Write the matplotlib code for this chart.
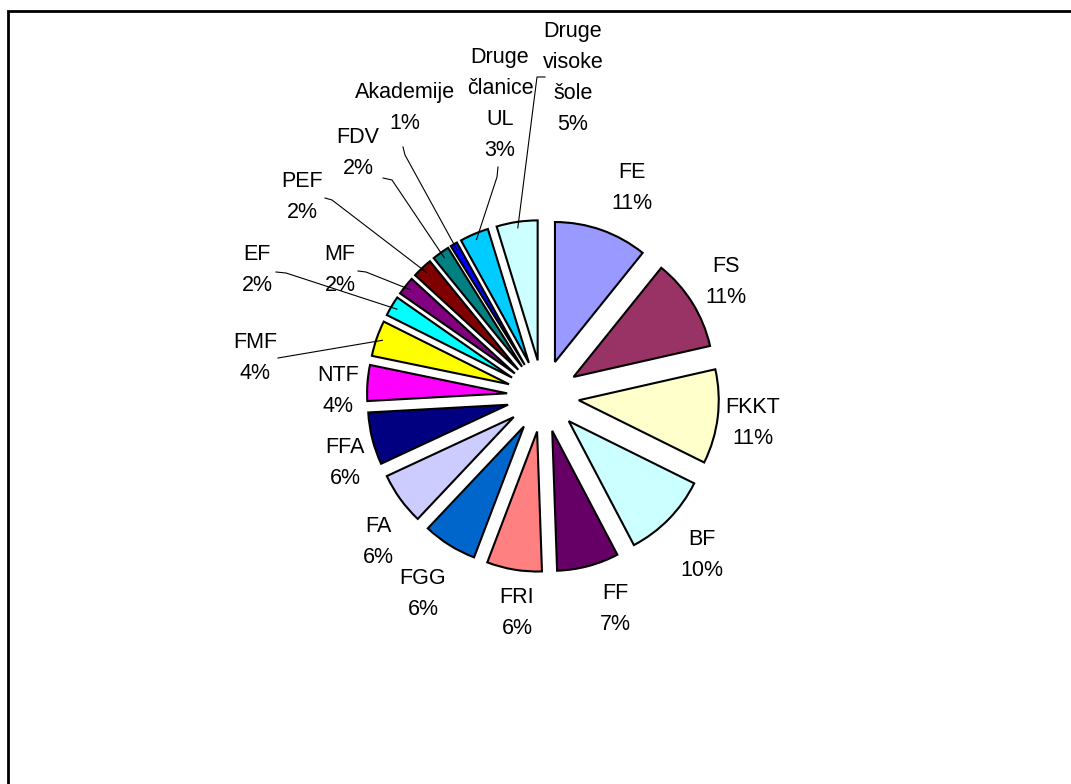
import numpy as np
import matplotlib
matplotlib.use("Agg")
import matplotlib.pyplot as plt
from matplotlib.patches import Rectangle

# data
labels = ["FE", "FS", "FKKT", "BF", "FF", "FRI", "FGG", "FA", "FFA", "NTF", "FMF",
          "EF", "MF", "PEF", "FDV", "Akademije", "Druge\nčlanice\nUL", "Druge\nvisoke\nšole"]
values = [10.7, 10.6, 10.8, 9.9, 7.1, 6.3, 6.2, 6.0, 6.0, 4.1, 4.1,
          2.3, 2.1, 2.3, 2.0, 0.8, 3.3, 4.7]
colors = ["#9999FF", "#993366", "#FFFFCC", "#CCFFFF", "#660066", "#FF8080", "#0066CC",
          "#CCCCFF", "#000080", "#FF00FF", "#FFFF00", "#00FFFF", "#800080", "#800000",
          "#008080", "#0000FF", "#00CCFF", "#CCFFFF"]

W, H = 1071, 784
CX, CY = 543, 396          # pie centre in image pixels
R = 140
EXPL = 36

plt.rcParams['font.family'] = ['Liberation Sans', 'DejaVu Sans']

fig = plt.figure(figsize=(W / 100, H / 100), dpi=100)
ax = fig.add_axes([0, 0, 1, 1])


def img(x, y):
    return x, H - y


wedges, _ = ax.pie(values, colors=colors, startangle=90, counterclock=False,
                   radius=R, center=img(CX, CY), explode=[EXPL] * len(values),
                   wedgeprops=dict(edgecolor='black', linewidth=1.5))
# pie() resets the limits, so set them afterwards
ax.set_xlim(0, W)
ax.set_ylim(0, H)
ax.set_aspect('equal')
ax.axis('off')

total = sum(values)

# label centres (image px), as Excel placed them
label_pos = {
    "FE": (632, 186), "FS": (726, 280), "FKKT": (753, 421), "BF": (702, 553),
    "FF": (615, 607), "FRI": (517, 611), "FGG": (423, 592), "FA": (378, 540),
    "FFA": (345, 461), "NTF": (338, 389), "FMF": (255, 356), "EF": (257, 268),
    "MF": (340, 268), "PEF": (302, 195), "FDV": (358, 151), "Akademije": (405, 106),
    "Druge\nčlanice\nUL": (500, 102), "Druge\nvisoke\nšole": (573, 76),
}
# leader line start points (image px) for labels placed away from their slice
leader = {
    "EF": [(276, 272), (286, 273)],
    "MF": [(358, 271), (366, 272)],
    "PEF": [(325, 198), (332, 200)],
    "FDV": [(383, 178), (392, 180)],
    "Akademije": [(403, 147), (405, 155)],
    "Druge\nčlanice\nUL": [(498, 167), (497, 177)],
    "Druge\nvisoke\nšole": [(545, 77), (537, 77)],
    "FMF": [(278, 358)],
}

for w, name, v in zip(wedges, labels, values):
    pct = f"{round(v / total * 100):.0f}%"
    th = np.deg2rad((w.theta1 + w.theta2) / 2)
    wx, wy = w.center
    if name in leader:
        pts = leader[name]
        ex = wx + (R - 6) * np.cos(th)
        ey = wy + (R - 6) * np.sin(th)
        xs = [p[0] for p in pts] + [ex]
        ys = [H - p[1] for p in pts] + [ey]
        ax.plot(xs, ys, color='black', lw=0.8)
    tx, ty = label_pos[name]
    ax.text(*img(tx, ty + 2), f"{name}\n{pct}", ha='center', va='center',
            fontsize=15.5, linespacing=1.62)

# chart area frame (cropped on right and bottom)
fig.patches.append(Rectangle((7.5 / W, -0.1), 1.2, (H - 11) / H + 0.1,
                             transform=fig.transFigure, fill=False,
                             edgecolor='black', linewidth=2))

fig.savefig("out.png", dpi=100)
